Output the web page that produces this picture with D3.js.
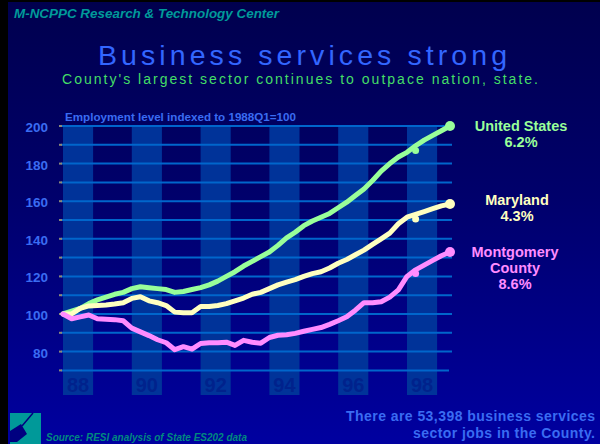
<!DOCTYPE html>
<html>
<head>
<meta charset="utf-8">
<script src="https://cdn.jsdelivr.net/npm/d3@7"></script>
<style>
  html, body { margin: 0; padding: 0; background: #000; }
  svg { display: block; font-family: Arial, "Liberation Sans", sans-serif; }
</style>
</head>
<body>
<div id="chart"></div>
<script>
// quarterly index, 1988Q1 = 100 (index 0) .. 1999Q2 (index 45)
const usValues = [100,101.5,103,105.5,107.5,109,110.5,111.5,113.5,114.5,114,113.5,113,111.5,112,113,
  114,115.5,117.5,120,122.5,125.5,128,130.5,133,136.5,140.5,143.5,147,149.5,151.5,153.5,
  156.5,159.5,163,166.5,171,176,180,183.5,186,189.5,192.5,195,197.5,200];
const mdValues = [100,100,103,104.3,104.5,104.8,105.3,106,108.3,109.2,107,106,104.5,101,100.7,100.7,
  104,104,104.5,105.5,107,108.5,110.5,111.5,113.5,115.5,117,118.3,120,121.5,122.5,124.5,
  127,129,131.5,134,137,140,143,148,151.5,153,154.5,156,157.5,158.5];
const mcValues = [100,97.5,98.5,99.5,97.5,97.2,97,96.4,92.5,90.5,88.5,86.3,84.7,81,82.6,81.3,
  84.3,84.7,84.7,85,83.3,86,85,84.5,87.5,88.7,89,89.7,90.8,91.8,92.8,94.5,
  96.4,98.5,102,106,106,106.5,109,112.8,120,123.5,126,128.5,131,133];
// separate 1998 markers
const markerIndex = 41;
const markerValues = [187, 150.5, 121.6];

const seriesNames = ["United States", "Maryland", "Montgomery County"];
const seriesGrowth = ["6.2%", "4.3%", "8.6%"];
const yearLabels = ["88", "90", "92", "94", "96", "98"];
const yTicks = [80, 100, 120, 140, 160, 180, 200];

const width = 600, height = 444;
const colors = ["#99ff99", "#ffffc0", "#ff8cff"];

const svg = d3.select("#chart").append("svg")
  .attr("width", width).attr("height", height);

// background
const defs = svg.append("defs");
const grad = defs.append("linearGradient").attr("id", "bg")
  .attr("x1", 0).attr("y1", 0).attr("x2", 0).attr("y2", 1);
grad.append("stop").attr("offset", "0%").attr("stop-color", "#00004e");
grad.append("stop").attr("offset", "45%").attr("stop-color", "#00006c");
grad.append("stop").attr("offset", "100%").attr("stop-color", "#0000a0");

svg.append("rect").attr("width", width).attr("height", height).attr("fill", "#000");
svg.append("rect").attr("x", 8).attr("y", 2).attr("width", width - 8).attr("height", height - 2)
  .attr("fill", "url(#bg)");

// scales
const x = d3.scaleLinear().domain([0, 45]).range([63, 450]);
const y = d3.scaleLinear().domain([70, 200]).range([370.4, 126]);

// year bands
const bands = svg.append("g");
yearLabels.forEach((lab, k) => {
  const q = k * 8;
  bands.append("rect")
    .attr("x", x(q)).attr("y", y(200))
    .attr("width", x(q + 3.5) - x(q)).attr("height", 395 - y(200))
    .attr("fill", "#003399");
  bands.append("text")
    .attr("x", x(q + 1.75)).attr("y", 392)
    .attr("text-anchor", "middle")
    .attr("font-size", 20).attr("font-weight", "bold")
    .attr("fill", "#00228c")
    .text(lab);
});

// gridlines every 10
const grid = svg.append("g");
d3.range(70, 201, 10).forEach(v => {
  grid.append("line")
    .attr("x1", 61).attr("x2", v === 70 ? 449 : 452)
    .attr("y1", y(v)).attr("y2", y(v))
    .attr("stroke", "#0066cc").attr("stroke-width", 2);
  grid.append("line")
    .attr("x1", 59).attr("x2", 62)
    .attr("y1", y(v)).attr("y2", y(v))
    .attr("stroke", "#8a8a7a").attr("stroke-width", 2);
});

// y axis labels
svg.append("g").selectAll("text").data(yTicks).join("text")
  .attr("x", 48).attr("y", d => y(d) + 6)
  .attr("text-anchor", "end")
  .attr("font-size", 13.5).attr("font-weight", "bold")
  .attr("fill", "#3a6cf2")
  .text(d => d);

// lines
const line = d3.line().x((d, i) => x(i)).y(d => y(d));
const allSeries = [usValues, mdValues, mcValues];
allSeries.forEach((vals, s) => {
  svg.append("path")
    .datum(vals)
    .attr("d", line)
    .attr("fill", "none")
    .attr("stroke", colors[s])
    .attr("stroke-width", 5)
    .attr("stroke-linejoin", "round")
    .attr("stroke-linecap", "round");
  svg.append("circle")
    .attr("cx", x(vals.length - 1)).attr("cy", y(vals[vals.length - 1]))
    .attr("r", 5).attr("fill", colors[s]);
  svg.append("circle")
    .attr("cx", x(markerIndex)).attr("cy", y(markerValues[s]))
    .attr("r", 3.5).attr("fill", colors[s]);
});

// legend labels
const legendPos = [[521, 131], [517, 205], [515, 257]];
seriesNames.forEach((name, s) => {
  const t = svg.append("text")
    .attr("x", legendPos[s][0]).attr("y", legendPos[s][1])
    .attr("text-anchor", "middle")
    .attr("font-size", 14.5).attr("font-weight", "bold")
    .attr("fill", colors[s]);
  const parts = name === "Montgomery County" ? ["Montgomery", "County"] : [name];
  parts.concat([seriesGrowth[s]]).forEach((p, j) => {
    t.append("tspan").attr("x", legendPos[s][0]).attr("dy", j === 0 ? 0 : 16).text(p);
  });
});

// titles and notes
svg.append("text")
  .attr("x", 14).attr("y", 18)
  .attr("font-size", 13).attr("font-weight", "bold").attr("font-style", "italic")
  .attr("fill", "#009a9a")
  .attr("textLength", 265).attr("lengthAdjust", "spacingAndGlyphs")
  .text("M-NCPPC Research & Technology Center");

svg.append("text")
  .attr("x", 98).attr("y", 65)
  .attr("font-size", 28.5)
  .attr("fill", "#3366ff")
  .attr("textLength", 409).attr("lengthAdjust", "spacing")
  .text("Business services strong");

svg.append("text")
  .attr("x", 62).attr("y", 84)
  .attr("font-size", 14)
  .attr("fill", "#44dd66")
  .attr("textLength", 476).attr("lengthAdjust", "spacing")
  .text("County's largest sector continues to outpace nation, state.");

svg.append("text")
  .attr("x", 65).attr("y", 121)
  .attr("font-size", 11.5).attr("font-weight", "bold")
  .attr("fill", "#3a6cf2")
  .attr("textLength", 231).attr("lengthAdjust", "spacingAndGlyphs")
  .text("Employment level indexed to 1988Q1=100");

svg.append("text")
  .attr("x", 346).attr("y", 421)
  .attr("font-size", 14).attr("font-weight", "bold")
  .attr("fill", "#3a6cf2")
  .attr("textLength", 249).attr("lengthAdjust", "spacing")
  .text("There are 53,398 business services");
svg.append("text")
  .attr("x", 413).attr("y", 438)
  .attr("font-size", 14).attr("font-weight", "bold")
  .attr("fill", "#3a6cf2")
  .attr("textLength", 182).attr("lengthAdjust", "spacing")
  .text("sector jobs in the County.");

svg.append("text")
  .attr("x", 46).attr("y", 441)
  .attr("font-size", 10).attr("font-weight", "bold").attr("font-style", "italic")
  .attr("fill", "#00897f")
  .attr("textLength", 201).attr("lengthAdjust", "spacingAndGlyphs")
  .text("Source: RESI analysis of State ES202 data");

// logo
const logo = svg.append("g");
logo.append("rect").attr("x", 10).attr("y", 413).attr("width", 31).attr("height", 31).attr("fill", "#009999");
logo.append("path").attr("d", "M10,431 L21,424 L27,434 L17,442 L10,442 Z").attr("fill", "#000080");
logo.append("line").attr("x1", 22).attr("y1", 426).attr("x2", 33).attr("y2", 413)
  .attr("stroke", "#000080").attr("stroke-width", 1.5);
</script>
</body>
</html>
